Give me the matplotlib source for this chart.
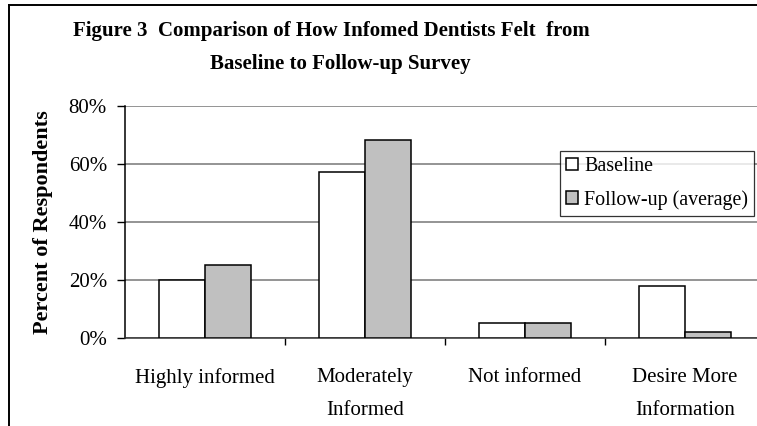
import matplotlib
matplotlib.use("Agg")
import matplotlib.pyplot as plt
from matplotlib.lines import Line2D
from matplotlib.ticker import FuncFormatter
import numpy as np

categories = ["Highly informed", "Moderately\nInformed", "Not informed", "Desire More\nInformation"]
baseline = [20, 57, 5, 18]
followup = [25, 68, 5, 2]
series_names = ["Baseline", "Follow-up (average)"]
y_ticks = [0, 20, 40, 60, 80]

plt.rcParams["font.family"] = ["Liberation Serif", "DejaVu Serif"]

W, H = 757, 426
fig = plt.figure(figsize=(W / 100, H / 100), dpi=100)
fig.patch.set_facecolor("white")

# plot area in pixel units, converted to figure fractions
left_px, right_px, top_px, bottom_px = 125, 765, 105.7, 337.7
ax = fig.add_axes([left_px / W, 1 - bottom_px / H,
                   (right_px - left_px) / W, (bottom_px - top_px) / H])

x = np.arange(len(categories))
bw = 0.29
ax.bar(x - bw / 2, baseline, bw, color="white", edgecolor="black", linewidth=1.1,
       label=series_names[0], zorder=3)
ax.bar(x + bw / 2, followup, bw, color="#c0c0c0", edgecolor="black", linewidth=1.1,
       label=series_names[1], zorder=3)

ax.set_xlim(-0.5, len(categories) - 0.5)
ax.set_ylim(0, 80)
ax.set_yticks(y_ticks)
ax.yaxis.set_major_formatter(FuncFormatter(lambda v, p: f"{v:.0f}%"))
ax.grid(axis="y", color="#777777", linewidth=1.1, zorder=0)

ax.set_xticks(x)
ax.set_xticklabels(categories, fontsize=15, linespacing=1.97)
ax.set_xticks(np.arange(len(categories)) + 0.5, minor=True)
ax.tick_params(axis="x", which="major", length=0, pad=22)
ax.tick_params(axis="x", which="minor", length=5, width=1, color="black", direction="out")
ax.tick_params(axis="y", length=6, width=1, labelsize=15, pad=7)

for s in ["top", "right"]:
    ax.spines[s].set_visible(False)
ax.spines["left"].set_linewidth(1.1)
ax.spines["bottom"].set_linewidth(1.1)
ax.spines["bottom"].set_color("#333333")

ax.set_ylabel("Percent of Respondents", fontsize=16, fontweight="bold", labelpad=11)

leg = ax.legend(loc="upper right", bbox_to_anchor=(754 / W, 1 - 151 / H),
                bbox_transform=fig.transFigure, fontsize=14.4, frameon=True,
                fancybox=False, edgecolor="black", handlelength=0.6, handleheight=0.6,
                handletextpad=0.3, labelspacing=0.7, borderpad=0.3, borderaxespad=0)
leg.get_frame().set_linewidth(0.9)
leg.set_zorder(5)

fig.text(331.5 / W, 1 - 31 / H, "Figure 3  Comparison of How Infomed Dentists Felt  from",
         ha="center", va="center", fontsize=15, fontweight="bold")
fig.text(340 / W, 1 - 64.5 / H, "Baseline to Follow-up Survey",
         ha="center", va="center", fontsize=15, fontweight="bold")

# outer frame lines along the top and left edges
fig.add_artist(Line2D([8.5 / W, 1], [1 - 5 / H, 1 - 5 / H], transform=fig.transFigure,
                      color="black", linewidth=1.4))
fig.add_artist(Line2D([9 / W, 9 / W], [0, 1 - 5 / H], transform=fig.transFigure,
                      color="black", linewidth=1.4))

fig.savefig("out.png", dpi=100, facecolor="white")
